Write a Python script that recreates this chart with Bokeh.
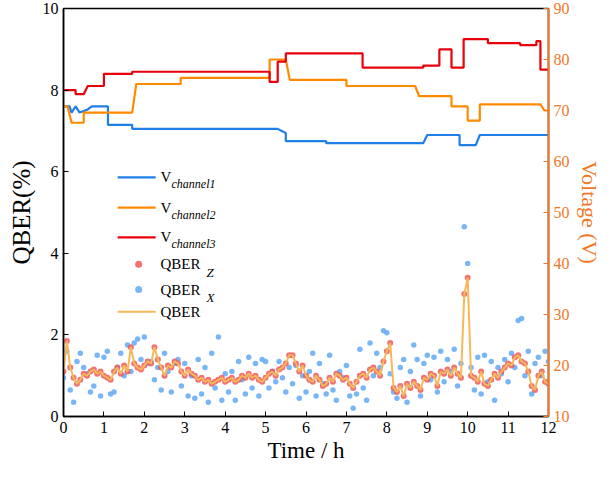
import numpy as np
from bokeh.plotting import figure
from bokeh.models import Range1d, LinearAxis, FixedTicker
from bokeh.core.properties import value
from bokeh.embed import file_html
from bokeh.resources import INLINE

t_q = list(np.linspace(0, 12, 145))
qber_z = [1.1,1.85,1.2,0.95,0.8,0.9,1.05,1.0,1.1,1.15,1.05,1.1,
          1.0,0.95,0.9,1.1,1.2,1.05,1.25,1.1,1.7,1.3,1.2,1.15,
          1.25,1.35,1.3,1.7,1.4,1.2,1.0,1.25,1.2,1.35,1.3,1.1,
          1.0,1.15,1.05,1.0,0.9,0.95,0.85,0.9,0.8,0.85,0.9,0.95,
          0.85,0.9,0.95,0.85,0.9,1.0,0.95,1.05,0.95,1.0,0.9,0.85,
          0.95,1.05,1.1,1.0,1.15,1.2,1.3,1.5,1.5,1.3,1.1,1.25,
          1.0,0.9,0.85,1.0,0.9,0.75,0.8,0.95,0.85,1.05,1.0,0.9,
          0.95,0.8,0.7,0.85,1.0,1.05,0.95,1.15,1.2,1.1,1.0,1.35,
          1.6,1.8,0.7,0.6,0.75,0.5,0.8,0.7,0.85,0.75,0.65,0.95,
          0.9,1.05,1.0,0.75,1.1,1.05,1.15,1.0,1.2,1.05,0.95,3.0,
          3.4,1.0,0.95,0.85,1.1,0.8,0.75,0.9,1.05,0.95,1.1,1.2,
          1.3,1.25,1.45,1.5,1.35,1.3,1.1,0.75,0.65,1.0,1.1,0.85,
          0.8]
qber_x = [0.95,1.6,0.65,0.35,1.35,1.55,1.2,1.05,0.6,0.75,1.5,0.5,
          1.45,1.6,0.55,0.6,1.2,1.55,1.0,1.75,1.1,1.8,1.9,1.4,
          1.95,1.3,1.35,0.9,1.2,0.65,1.55,1.1,0.6,1.3,1.4,0.75,
          1.3,0.5,1.0,0.45,1.4,0.55,1.2,0.35,1.55,0.7,1.95,0.4,
          1.05,0.6,1.1,0.4,1.35,0.9,0.55,1.45,0.7,1.3,0.5,1.4,
          1.35,0.7,1.1,0.85,1.35,0.95,0.6,1.2,0.8,1.25,0.45,1.0,
          0.6,1.1,1.55,0.5,1.3,0.8,0.55,1.5,0.65,0.4,1.1,0.95,
          1.25,0.5,0.2,0.55,1.65,0.7,0.4,1.8,1.0,1.55,1.2,2.1,
          2.05,1.05,0.6,0.45,1.2,1.4,0.35,1.1,1.75,1.4,0.5,1.3,
          1.5,0.9,1.45,0.6,1.6,0.85,1.4,1.1,1.65,0.75,1.3,4.65,
          3.75,1.2,0.65,1.45,0.55,1.5,0.85,1.35,0.4,1.2,1.05,1.4,
          0.85,1.55,1.2,2.35,2.4,1.0,1.6,0.55,1.3,1.45,1.0,1.6,
          1.35]

t_v1 = [0,0.15,0.2,0.3,0.4,0.6,0.7,1.1,1.1,1.7,1.7,5.3,5.5,5.5,6.5,6.5,8.9,9.0,9.8,9.8,10.2,10.3,12]
v_ch1 = [70.8,70.8,69.6,70.8,69.6,70.2,70.8,70.8,67.2,67.2,66.4,66.4,65.6,64.0,64.0,63.6,63.6,65.2,65.2,63.2,63.2,65.2,65.2]
t_v2 = [0,0.1,0.2,0.5,0.5,1.7,1.8,2.9,2.9,5.1,5.1,5.5,5.6,7.0,7.0,8.7,8.8,9.6,9.6,10.0,10.0,10.3,10.3,11.8,11.9,12]
v_ch2 = [70.8,70.8,67.6,67.6,69.6,69.6,75.2,75.2,76.4,76.4,80.0,80.0,76.0,76.0,74.8,74.8,72.8,72.8,70.8,70.8,68.0,68.0,71.2,71.2,70.0,70.0]
t_v3 = [0,0.3,0.3,0.5,0.6,1.0,1.0,1.7,1.7,5.1,5.1,5.3,5.3,5.5,5.5,7.4,7.4,8.9,8.9,9.3,9.3,9.6,9.6,9.9,9.9,10.5,10.5,11.3,11.3,11.7,11.7,11.8,11.8,12]
v_ch3 = [74.0,74.0,73.2,73.2,74.8,74.8,77.2,77.2,77.6,77.6,75.6,75.6,79.6,79.6,81.2,81.2,78.4,78.4,78.8,78.8,82.0,82.0,78.4,78.4,84.0,84.0,83.2,83.2,82.8,82.8,83.6,83.6,78.0,78.0]

BLUE = "#1f7fe6"; ORANGE = "#ff8a00"; RED = "#e8000b"
ZC = "#f05a5a"; XC = "#6aaef5"; QC = "#f5b85a"; AX_OR = "#f07828"
FONT = "Liberation Serif"

p = figure(frame_width=485, frame_height=408, output_backend="svg", toolbar_location=None,
           x_range=Range1d(0, 12), y_range=Range1d(0, 10),
           min_border_left=63, min_border_right=10, min_border_top=8, min_border_bottom=10)
p.extra_y_ranges = {"v": Range1d(10, 90)}
p.grid.visible = False
p.outline_line_color = "black"
p.outline_line_width = 1.5

def v2q(vs):
    return [(v - 10) / 8 for v in vs]

p.line(t_v1, v2q(v_ch1), color=BLUE, line_width=2.2)
p.line(t_v2, v2q(v_ch2), color=ORANGE, line_width=2.2)
p.line(t_v3, v2q(v_ch3), color=RED, line_width=2.2)

p.scatter(t_q, qber_x, size=5.5, color=XC, alpha=0.9, line_color=None)
p.scatter(t_q, qber_z, size=6, color=ZC, alpha=0.85, line_color=None)
p.line(t_q, qber_z, color=QC, line_width=2)

ax = p.xaxis[0]
ax.ticker = FixedTicker(ticks=list(range(13)))
ax.axis_label = "Time / h"
ly = p.yaxis[0]
ly.ticker = FixedTicker(ticks=[0, 2, 4, 6, 8, 10])
ly.axis_label = "QBER(%)"
ry = LinearAxis(y_range_name="v", ticker=FixedTicker(ticks=list(range(10, 91, 10))),
                axis_label="Voltage (V)")
p.add_layout(ry, "right")
for a in [ax, ly]:
    a.major_label_text_font = FONT
    a.major_label_text_font_size = "16px"
    a.major_label_text_color = "black"
    a.axis_label_text_font = FONT
    a.axis_label_text_font_size = "23px"
    a.axis_label_text_font_style = "normal"
    a.axis_label_text_color = "black"
    a.major_tick_in = 5; a.major_tick_out = 0
    a.minor_tick_line_color = None
    a.axis_line_width = 1.5
ax.axis_label_standoff = 2
ly.axis_label_text_font_size = "25px"
ry.major_label_text_font = FONT
ry.major_label_text_font_size = "16px"
ry.major_label_text_color = AX_OR
ry.axis_label_text_font = FONT
ry.axis_label_text_font_size = "22px"
ry.axis_label_text_font_style = "normal"
ry.axis_label_text_color = AX_OR
ry.axis_label_standoff = 4
ry.axis_line_color = AX_OR
ry.axis_line_width = 2
ry.major_tick_line_color = AX_OR
ry.major_tick_in = 5; ry.major_tick_out = 0
ry.minor_tick_line_color = None

# legend
lx0, lx1, tx, dx = 1.34, 2.28, 2.40, 1.86
rows = [5.86, 5.12, 4.39, 3.73, 3.11, 2.57]
for y, c in zip(rows[:3], [BLUE, ORANGE, RED]):
    p.line([lx0, lx1], [y, y], color=c, line_width=2.2)
p.scatter([dx], [rows[3]], size=7, color=ZC, alpha=0.85, line_color=None)
p.scatter([dx], [rows[4]], size=7, color=XC, alpha=0.9, line_color=None)
p.line([lx0, lx1], [rows[5], rows[5]], color=QC, line_width=2)

main_txt = ["V", "V", "V", "QBER", "QBER", "QBER"]
p.text([tx]*6, rows, text=main_txt, text_font=value(FONT), text_font_size="15px",
       text_baseline="middle", text_color="black")
p.text([tx]*3, rows[:3], text=["channel1", "channel2", "channel3"], text_font=value(FONT),
       text_font_size="12px", text_font_style="italic", text_baseline="middle",
       x_offset=11, y_offset=7, text_color="black")
p.text([tx]*2, rows[3:5], text=["Z", "X"], text_font=value(FONT),
       text_font_size="13px", text_font_style="italic", text_baseline="middle",
       x_offset=46, y_offset=8, text_color="black")

open("out.html", "w").write(file_html(p, INLINE))
